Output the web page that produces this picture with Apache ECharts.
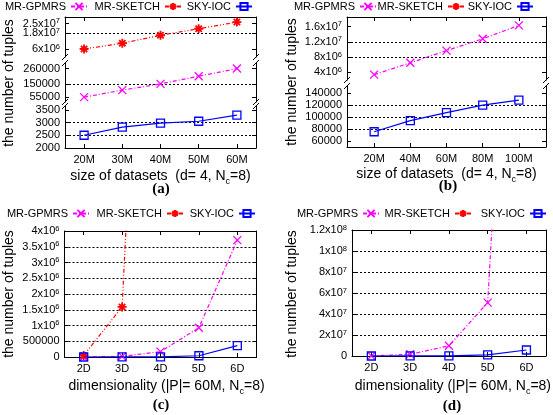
<!DOCTYPE html>
<html><head><meta charset="utf-8">
<script src="https://cdn.jsdelivr.net/npm/echarts@6/dist/echarts.min.js"></script>
<style>html,body{margin:0;padding:0;background:#fff}#c{width:553px;height:415px}</style>
</head><body><div id="c"></div>
<script>
// ---------------- data ----------------
const seriesNames = ['MR-GPMRS', 'MR-SKETCH', 'SKY-IOC'];
// (a) size of datasets, d=4 (independent)
const aSizes = [20, 30, 40, 50, 60];
const aGPMRS = [55000, 105000, 150000, 205000, 260000];
const aSKETCH = [6.0e6, 1.03e7, 1.63e7, 2.12e7, 2.62e7];
const aIOC = [2500, 2820, 2975, 3050, 3290];
const aTopTicks = [6e6, 1.8e7, 2.5e7];
const aMidTicks = [55000, 150000, 260000];
const aBotTicks = [2000, 2500, 3000, 3500];
// (b) size of datasets, d=4 (anti-correlated)
const bSizes = [20, 40, 60, 80, 100];
const bGPMRS = [3.4e6, 6.5e6, 9.7e6, 1.28e7, 1.63e7];
const bSKETCH = [];
const bIOC = [75500, 94000, 107500, 120000, 128500];
const bTopTicks = [4e6, 8e6, 1.2e7, 1.6e7];
const bBotTicks = [60000, 80000, 100000, 120000, 140000];
// (c) dimensionality, |P|=60M (independent)
const dims = [2, 3, 4, 5, 6];
const cGPMRS = [2000, 20000, 170000, 9.3e5, 3.71e6];
const cSKETCH = [5e4, 1.59e6, 2.62e7];
const cIOC = [200, 1200, 3290, 4e4, 3.6e5];
const cTicks = [0, 5e5, 1e6, 1.5e6, 2e6, 2.5e6, 3e6, 3.5e6, 4e6];
// (d) dimensionality, |P|=60M (anti-correlated)
const dGPMRS = [1e5, 1.6e6, 9.7e6, 5.08e7, 7e8];
const dSKETCH = [];
const dIOC = [3000, 3e4, 1.08e5, 1.1e6, 5.7e6];
const dTicks = [0, 2e7, 4e7, 6e7, 8e7, 1e8, 1.2e8];

// ---------------- style ----------------
const FONT = "'Liberation Sans', Arial, Helvetica, sans-serif";
const STY = {
  'MR-GPMRS': {color: '#ff00ff', symbol: 'path://M0,0L10,10M10,0L0,10', size: 8, dash: [4, 2, 1, 2], bw: 1.3, fill: '#ff00ff'},
  'MR-SKETCH': {color: '#ff0000', symbol: 'path://M5,0L5,10M0,5L10,5M1.5,1.5L8.5,8.5M8.5,1.5L1.5,8.5', size: 9, dash: [4, 2, 1, 2, 1, 2], bw: 1.8, fill: '#ff0000'},
  'SKY-IOC': {color: '#0000ff', symbol: 'rect', size: 8, dash: 'solid', bw: 1.3, fill: 'rgba(0,0,0,0)'}
};

const grids = [], xAxes = [], yAxes = [], series = [], graphics = [], legends = [];

function fmtY(v) {
  if (v >= 1e6) {
    const e = Math.floor(Math.log10(v) + 1e-9);
    const m = +(v / Math.pow(10, e)).toFixed(2);
    return '{b|' + m + 'x10}{s|' + e + '}';
  }
  return '{b|' + v + '}';
}
const yRich = {
  b: {fontSize: 11, fontFamily: FONT, color: '#000', lineHeight: 13},
  s: {fontSize: 7.5, fontFamily: FONT, color: '#000', verticalAlign: 'top', lineHeight: 13}
};
function yLabelStyle(values) {
  return {customValues: values, formatter: fmtY, rich: yRich, margin: 5, color: '#000', fontSize: 11, fontFamily: FONT,
    interval: 0, hideOverlap: false, showMinLabel: true, showMaxLabel: true};
}

function addGrid(x0, x1, y0, y1, o) {
  const gi = grids.length;
  grids.push({left: x0, top: y0, width: x1 - x0, height: y1 - y0});
  const xb = xAxes.length;
  xAxes.push({
    gridIndex: gi, type: 'value', position: 'bottom', min: o.xmin, max: o.xmax,
    axisLine: {show: !!o.bottom, onZero: false, lineStyle: {color: '#000', width: 1}},
    axisTick: {show: !!o.bottom, inside: true, length: 4, customValues: o.xticks, lineStyle: {color: '#000'}},
    axisLabel: {show: !!o.bottom, customValues: o.xticks, formatter: o.xfmt, color: '#000', fontSize: 11, fontFamily: FONT,
      margin: 6, interval: 0, hideOverlap: false, showMinLabel: true, showMaxLabel: true},
    splitLine: {show: false},
    name: o.xname || '', nameLocation: 'middle', nameGap: o.nameGap || 20,
    nameTextStyle: {fontSize: 14, fontFamily: FONT, color: '#000', padding: o.namePad || 0,
      rich: {sub: {fontSize: 9, fontFamily: FONT, color: '#000', verticalAlign: 'bottom', lineHeight: 19}}}
  });
  xAxes.push({
    gridIndex: gi, type: 'value', position: 'top', min: o.xmin, max: o.xmax,
    axisLine: {show: !!o.top, onZero: false, lineStyle: {color: '#000', width: 1}},
    axisTick: {show: !!o.top, inside: true, length: 4, customValues: o.xticks, lineStyle: {color: '#000'}},
    axisLabel: {show: false}, splitLine: {show: false}
  });
  // labels split into two groups when two tick labels are too close to share one axis
  const mainLabels = o.yticks.filter(v => !(o.ysplit || []).includes(v));
  const yl = yAxes.length;
  yAxes.push({
    gridIndex: gi, type: 'value', position: 'left', min: o.ymin, max: o.ymax,
    axisLine: {show: true, onZero: false, lineStyle: {color: '#000', width: 1}},
    axisTick: {show: true, inside: true, length: 4, customValues: o.yticks, lineStyle: {color: '#000'}},
    axisLabel: yLabelStyle(mainLabels),
    splitLine: {show: true, showMinLine: false, showMaxLine: false, lineStyle: {color: '#000', width: 1, type: [2, 2]}}
  });
  yAxes.push({
    gridIndex: gi, type: 'value', position: 'right', min: o.ymin, max: o.ymax,
    axisLine: {show: true, onZero: false, lineStyle: {color: '#000', width: 1}},
    axisTick: {show: true, inside: true, length: 4, customValues: o.yticks, lineStyle: {color: '#000'}},
    axisLabel: {show: false}, splitLine: {show: false}
  });
  if (o.ysplit) {
    yAxes.push({
      gridIndex: gi, type: 'value', position: 'left', min: o.ymin, max: o.ymax,
      axisLine: {show: false}, axisTick: {show: false}, splitLine: {show: false},
      axisLabel: yLabelStyle(o.ysplit)
    });
  }
  return {xi: xb, yi: yl};
}

function addSeries(name, xs, ys, ax) {
  const s = STY[name];
  series.push({
    type: 'line', name: name, xAxisIndex: ax.xi, yAxisIndex: ax.yi,
    data: ys.map((v, i) => [xs[i], v]),
    symbol: s.symbol, symbolSize: s.size, showAllSymbol: true,
    lineStyle: {color: s.color, width: 1.2, type: s.dash},
    itemStyle: {color: s.fill, borderColor: s.color, borderWidth: s.bw},
    clip: true, animation: false, silent: true,
    z: name === 'SKY-IOC' ? 3 : 2
  });
}

function breakMark(x, y) {
  graphics.push({type: 'line', silent: true, shape: {x1: x - 3, y1: y + 3, x2: x + 3, y2: y - 3},
    style: {stroke: '#000', lineWidth: 1}});
}
function yName(x, y) {
  graphics.push({type: 'text', silent: true, x: x, y: y, rotation: Math.PI / 2,
    style: {text: 'the number of tuples', font: '14px ' + FONT, fill: '#000',
      align: 'center', verticalAlign: 'middle', textAlign: 'center', textVerticalAlign: 'middle'}});
}
function panelTag(t, x, y) {
  graphics.push({type: 'text', silent: true, x: x, y: y,
    style: {text: t, font: "bold 15px 'Liberation Serif', 'Times New Roman', serif", fill: '#000',
      align: 'center', verticalAlign: 'middle', textAlign: 'center', textVerticalAlign: 'middle'}});
}
function addLegend(rights, top) {
  seriesNames.forEach((n, i) => {
    legends.push({data: [n], right: 553 - rights[i], top: top, orient: 'horizontal', align: 'right',
      padding: 0, itemGap: 0, itemWidth: 16, itemHeight: 9, selectedMode: false,
      textStyle: {fontSize: 11, fontFamily: FONT, color: '#000'}});
  });
}

const sizeFmt = v => v + 'M';
const dimFmt = v => v + 'D';
const sizeName = 'size of datasets  (d= 4, N{sub|c}=8)';
const dimName = 'dimensionality (|P|= 60M, N{sub|c}=8)';

// ---------- panel (a) ----------
const A = {x0: 65, x1: 256, segs: [[17, 57], [63, 102], [106, 148]]};
const aTop = addGrid(A.x0, A.x1, A.segs[0][0], A.segs[0][1], {xmin: 15, xmax: 65, xticks: aSizes, top: true,
  ymin: 0, ymax: 3e7, yticks: aTopTicks, ysplit: [aTopTicks[2]]});
const aMid = addGrid(A.x0, A.x1, A.segs[1][0], A.segs[1][1], {xmin: 15, xmax: 65, xticks: aSizes,
  ymin: 20000, ymax: 300000, yticks: aMidTicks});
const aBot = addGrid(A.x0, A.x1, A.segs[2][0], A.segs[2][1], {xmin: 15, xmax: 65, xticks: aSizes, bottom: true, xfmt: sizeFmt,
  xname: sizeName, nameGap: 19, ymin: 2000, ymax: 3650, yticks: aBotTicks});
addSeries('MR-GPMRS', aSizes, aGPMRS, aMid);
addSeries('MR-SKETCH', aSizes, aSKETCH, aTop);
addSeries('SKY-IOC', aSizes, aIOC, aBot);
[A.segs[0][1], A.segs[1][0], A.segs[1][1], A.segs[2][0]].forEach(y => { breakMark(A.x0, y); breakMark(A.x1, y); });

// ---------- panel (b) ----------
const B = {x0: 347, x1: 546, segs: [[17, 80], [86, 147]]};
const bTop = addGrid(B.x0, B.x1, B.segs[0][0], B.segs[0][1], {xmin: 5, xmax: 115, xticks: bSizes, top: true,
  ymin: 2e6, ymax: 1.85e7, yticks: bTopTicks});
const bBot = addGrid(B.x0, B.x1, B.segs[1][0], B.segs[1][1], {xmin: 5, xmax: 115, xticks: bSizes, bottom: true, xfmt: sizeFmt,
  xname: sizeName, nameGap: 18, ymin: 50000, ymax: 152000, yticks: bBotTicks});
addSeries('MR-GPMRS', bSizes, bGPMRS, bTop);
addSeries('MR-SKETCH', bSizes, bSKETCH, bTop);
addSeries('SKY-IOC', bSizes, bIOC, bBot);
[B.segs[0][1], B.segs[1][0]].forEach(y => { breakMark(B.x0, y); breakMark(B.x1, y); });

// ---------- panel (c) ----------
const C = {x0: 64.5, x1: 256.5, y0: 231, y1: 357};
const cAx = addGrid(C.x0, C.x1, C.y0, C.y1, {xmin: 1.5, xmax: 6.5, xticks: dims, top: true, bottom: true, xfmt: dimFmt,
  xname: dimName, nameGap: 20, namePad: [0, 0, 0, 12], ymin: 0, ymax: 4e6, yticks: cTicks});
addSeries('MR-GPMRS', dims, cGPMRS, cAx);
addSeries('MR-SKETCH', dims.slice(0, cSKETCH.length), cSKETCH, cAx);
addSeries('SKY-IOC', dims, cIOC, cAx);

// ---------- panel (d) ----------
const D = {x0: 352, x1: 551.5, y0: 230, y1: 356};
const dAx = addGrid(D.x0, D.x1, D.y0, D.y1, {xmin: 1.5, xmax: 6.5, xticks: dims, top: true, bottom: true, xfmt: dimFmt,
  xname: dimName, nameGap: 21, namePad: [0, 0, 0, 8], ymin: 0, ymax: 1.2e8, yticks: dTicks});
addSeries('MR-GPMRS', dims, dGPMRS, dAx);
addSeries('MR-SKETCH', dims.slice(0, dSKETCH.length), dSKETCH, dAx);
addSeries('SKY-IOC', dims, dIOC, dAx);

// ---------- texts, legends ----------
yName(9, 83); yName(292, 82); yName(9, 294); yName(292, 294);
panelTag('(a)', 161, 189); panelTag('(b)', 448, 186); panelTag('(c)', 161, 405); panelTag('(d)', 452, 406);
addLegend([88, 182, 253], 1);
addLegend([377, 465, 534], 1);
addLegend([90, 184, 256], 208);
addLegend([380, 472, 547], 208);

const chart = echarts.init(document.getElementById('c'), null, {renderer: 'canvas'});
chart.setOption({
  animation: false,
  backgroundColor: '#fff',
  textStyle: {fontFamily: FONT},
  grid: grids, xAxis: xAxes, yAxis: yAxes, series: series,
  legend: legends, graphic: graphics
});
</script>
</body></html>
